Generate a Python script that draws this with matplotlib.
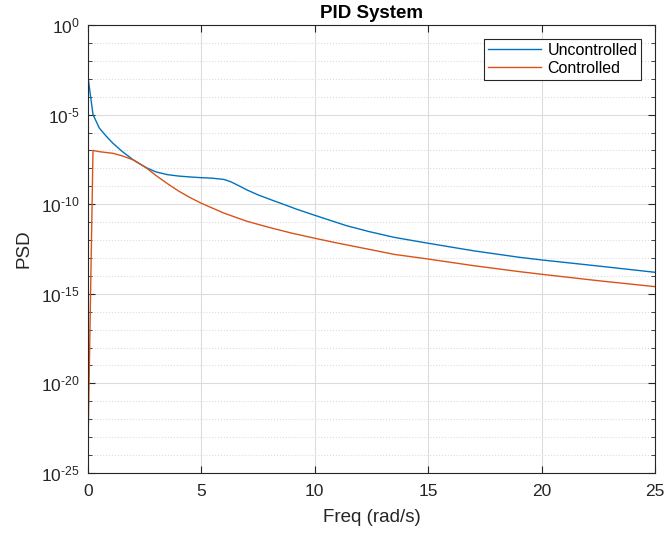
import numpy as np
import matplotlib
matplotlib.use("Agg")
import matplotlib.pyplot as plt
from matplotlib.ticker import FixedLocator, NullFormatter, FuncFormatter

plt.rcParams['font.family'] = ['Liberation Sans', 'DejaVu Sans']
plt.rcParams['mathtext.fontset'] = 'custom'
plt.rcParams['mathtext.rm'] = 'Liberation Sans'

# PSD values (log10 of PSD)
freq_unc = [0, 0.22, 0.5, 0.8, 1.1, 1.5, 2.0, 2.6, 3.0, 3.5, 4.0, 4.5, 5.0,
            5.5, 6.0, 6.3, 6.7, 7.0, 7.5, 8.0, 8.5, 9.2, 10, 11.4, 12.4,
            13.5, 15, 17, 19, 20, 22.5, 25]
log_unc = [-2.9, -5.0, -5.75, -6.2, -6.6, -7.05, -7.53, -7.98, -8.2, -8.35,
           -8.43, -8.48, -8.52, -8.55, -8.62, -8.75, -9.0, -9.2, -9.48, -9.72,
           -9.95, -10.28, -10.62, -11.2, -11.53, -11.85, -12.18, -12.6,
           -12.96, -13.11, -13.45, -13.8]

freq_ctl = [0, 0.22, 0.5, 1.1, 1.5, 2.0, 2.6, 3.0, 3.5, 4.0, 4.5, 5.0, 6.0,
            7.0, 8.0, 9.0, 10, 11, 12.4, 13.5, 15, 17, 19, 20, 22.5, 25]
log_ctl = [-23.5, -7.0, -7.07, -7.16, -7.3, -7.53, -8.0, -8.4, -8.85, -9.27,
           -9.63, -9.95, -10.5, -10.95, -11.3, -11.62, -11.9, -12.17, -12.52,
           -12.8, -13.06, -13.43, -13.76, -13.91, -14.27, -14.6]

blue = '#0072BD'
orange = '#D95319'
axis_col = '#262626'


def decade_label(v, pos):
    k = int(round(np.log10(v)))
    if k < 0:
        return r'$\mathdefault{10^{\text{-}%d}}$' % (-k)
    return r'$\mathdefault{10^{%d}}$' % k


fig = plt.figure(figsize=(6.66, 5.35), dpi=100)
ax = fig.add_axes([88 / 666, 62 / 535, 567 / 666, 448 / 535])

ax.semilogy(freq_unc, 10.0 ** np.array(log_unc), color=blue, lw=1.0,
            label='Uncontrolled')
ax.semilogy(freq_ctl, 10.0 ** np.array(log_ctl), color=orange, lw=1.0,
            label='Controlled')

ax.set_xlim(0, 25)
ax.set_ylim(1e-25, 1e0)
ax.set_xticks([0, 5, 10, 15, 20, 25])
ax.set_yticks([10.0 ** k for k in range(-25, 1, 5)])
ax.yaxis.set_major_formatter(FuncFormatter(decade_label))
ax.yaxis.set_minor_locator(FixedLocator([10.0 ** k for k in range(-25, 1)
                                         if k % 5 != 0]))
ax.yaxis.set_minor_formatter(NullFormatter())

# MATLAB style grid
ax.grid(True, which='major', color='#dcdcdc', lw=0.8, ls='-')
ax.grid(True, which='minor', axis='y', color='#dcdcdc', lw=0.8, ls=':')
ax.set_axisbelow(True)

ax.tick_params(which='both', direction='in', top=True, right=True,
               colors=axis_col, labelsize=12.5)
ax.tick_params(which='major', length=5)
ax.tick_params(which='minor', length=3)
ax.tick_params(axis='y', which='major', pad=6)
ax.tick_params(axis='x', which='major', pad=8)
for sp in ax.spines.values():
    sp.set_color(axis_col)
    sp.set_linewidth(0.8)

ax.set_xlabel('Freq (rad/s)', fontsize=13.5, color=axis_col, labelpad=7)
ax.set_ylabel('PSD', fontsize=13.5, color=axis_col, labelpad=6)
ax.set_title('PID System', fontsize=13.5, fontweight='bold', color='black',
             pad=5)

leg = ax.legend(loc='upper right', fontsize=11.5, fancybox=False,
                framealpha=1, edgecolor=axis_col, handlelength=3.3,
                borderaxespad=0.85, borderpad=0.25, labelspacing=0.2,
                handletextpad=0.4)
leg.get_frame().set_linewidth(0.8)

fig.savefig('out.png', dpi=100)
